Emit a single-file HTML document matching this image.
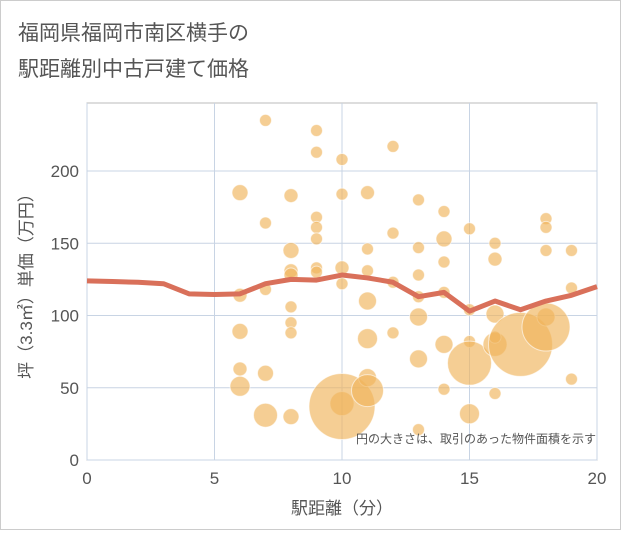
<!DOCTYPE html>
<html><head><meta charset="utf-8"><style>
body{margin:0;background:#fff;font-family:"Liberation Sans","Noto Sans CJK JP",sans-serif;}
</style></head><body>
<svg width="621" height="530" xmlns="http://www.w3.org/2000/svg" font-family="Liberation Sans, Noto Sans CJK JP, sans-serif">
<rect x="0.5" y="0.5" width="620" height="529" fill="#fff" stroke="#ccc"/>
<text x="18" y="40" font-size="21" fill="#555">福岡県福岡市南区横手の</text>
<text x="18" y="76" font-size="21" fill="#555">駅距離別中古戸建て価格</text>
<g id="grid"></g>
<g id="bubbles"></g>
<g id="line"></g>
<g id="axes"></g>
<text x="596" y="443" font-size="12" fill="#555" text-anchor="end">円の大きさは、取引のあった物件面積を示す</text>
<text x="342" y="514" font-size="17" fill="#555" text-anchor="middle">駅距離（分）</text>
<text transform="translate(32,282) rotate(-90)" font-size="17" fill="#555" text-anchor="middle">坪（3.3㎡）単価（万円）</text>
</svg>
<script>
const xTicks=[0,5,10,15,20];
const yTicks=[0,50,100,150,200];
const bx=[6,6,6,6,6,7,7,7,7,7,8,8,8,8,8,8,8,8,9,9,9,9,9,9,9,10,10,10,10,10,10,11,11,11,11,11,11,11,12,12,12,12,13,13,13,13,13,13,13,14,14,14,14,14,14,15,15,15,15,15,16,16,16,16,16,16,17,18,18,18,18,18,19,19,19];
const by=[185,114,89,63,51,235,164,118,60,31,183,145,131,128,106,95,88,30,228,213,168,161,153,133,130,208,184,133,122,39,37,185,146,131,110,84,57,48,217,157,123,88,180,147,128,113,99,70,21,172,153,137,116,80,49,160,104,82,67,32,150,139,101,80,85,46,80,167,161,145,99,92,145,119,56];
const br=[8,7,8,7,10,6,6,6,8,12,7,8,7,7,6,6,6,8,6,6,6,6,6,6,6,6,6,7,6,12,33,7,6,6,9,10,9,16,6,6,6,6,6,6,6,6,9,9,6,6,8,6,6,9,6,6,6,6,22,10,6,7,9,12,6,6,32,6,6,6,9,24,6,6,6];
const lx=[0,1,2,3,4,5,6,7,8,9,10,11,12,13,14,15,16,17,18,19,20];
const ly=[124,123.5,123,122,115,114.5,115,122,125,124.5,128,126,123,113,116,103,110,104,110,114,120];
const X=v=>87+v*25.5, Y=v=>460-v*1.445;
const NS="http://www.w3.org/2000/svg";
function mk(t,a,p){const e=document.createElementNS(NS,t);for(const k in a)e.setAttribute(k,a[k]);p.appendChild(e);return e;}
const g=document.getElementById('grid'),ax=document.getElementById('axes');
mk('rect',{x:87,y:103,width:510,height:357,fill:'none',stroke:'#bbb'},g);
xTicks.forEach(v=>{const l=mk('line',{x1:X(v),x2:X(v),y1:103,y2:460,stroke:'#c8d4e4'},g);


const t=mk('text',{x:X(v),y:484,'font-size':17,fill:'#555','text-anchor':'middle'},ax);t.textContent=v;

});
yTicks.forEach(v=>{const l=mk('line',{x1:87,x2:597,y1:Y(v),y2:Y(v),stroke:'#c8d4e4'},g);


const t=mk('text',{x:79,y:Y(v)+6,'font-size':17,fill:'#555','text-anchor':'end'},ax);t.textContent=v;

});
const b=document.getElementById('bubbles');
bx.forEach((v,i)=>{const c=mk('circle',{cx:X(v),cy:Y(by[i]),r:br[i],fill:'rgba(240,180,90,0.65)',stroke:'rgba(255,255,255,0.6)','stroke-width':1},b);

});
const p=mk('polyline',{points:lx.map((v,i)=>X(v)+','+Y(ly[i])).join(' '),fill:'none',stroke:'#d9705a','stroke-width':5,'stroke-linejoin':'round'},document.getElementById('line'));


</script>
</body></html>
